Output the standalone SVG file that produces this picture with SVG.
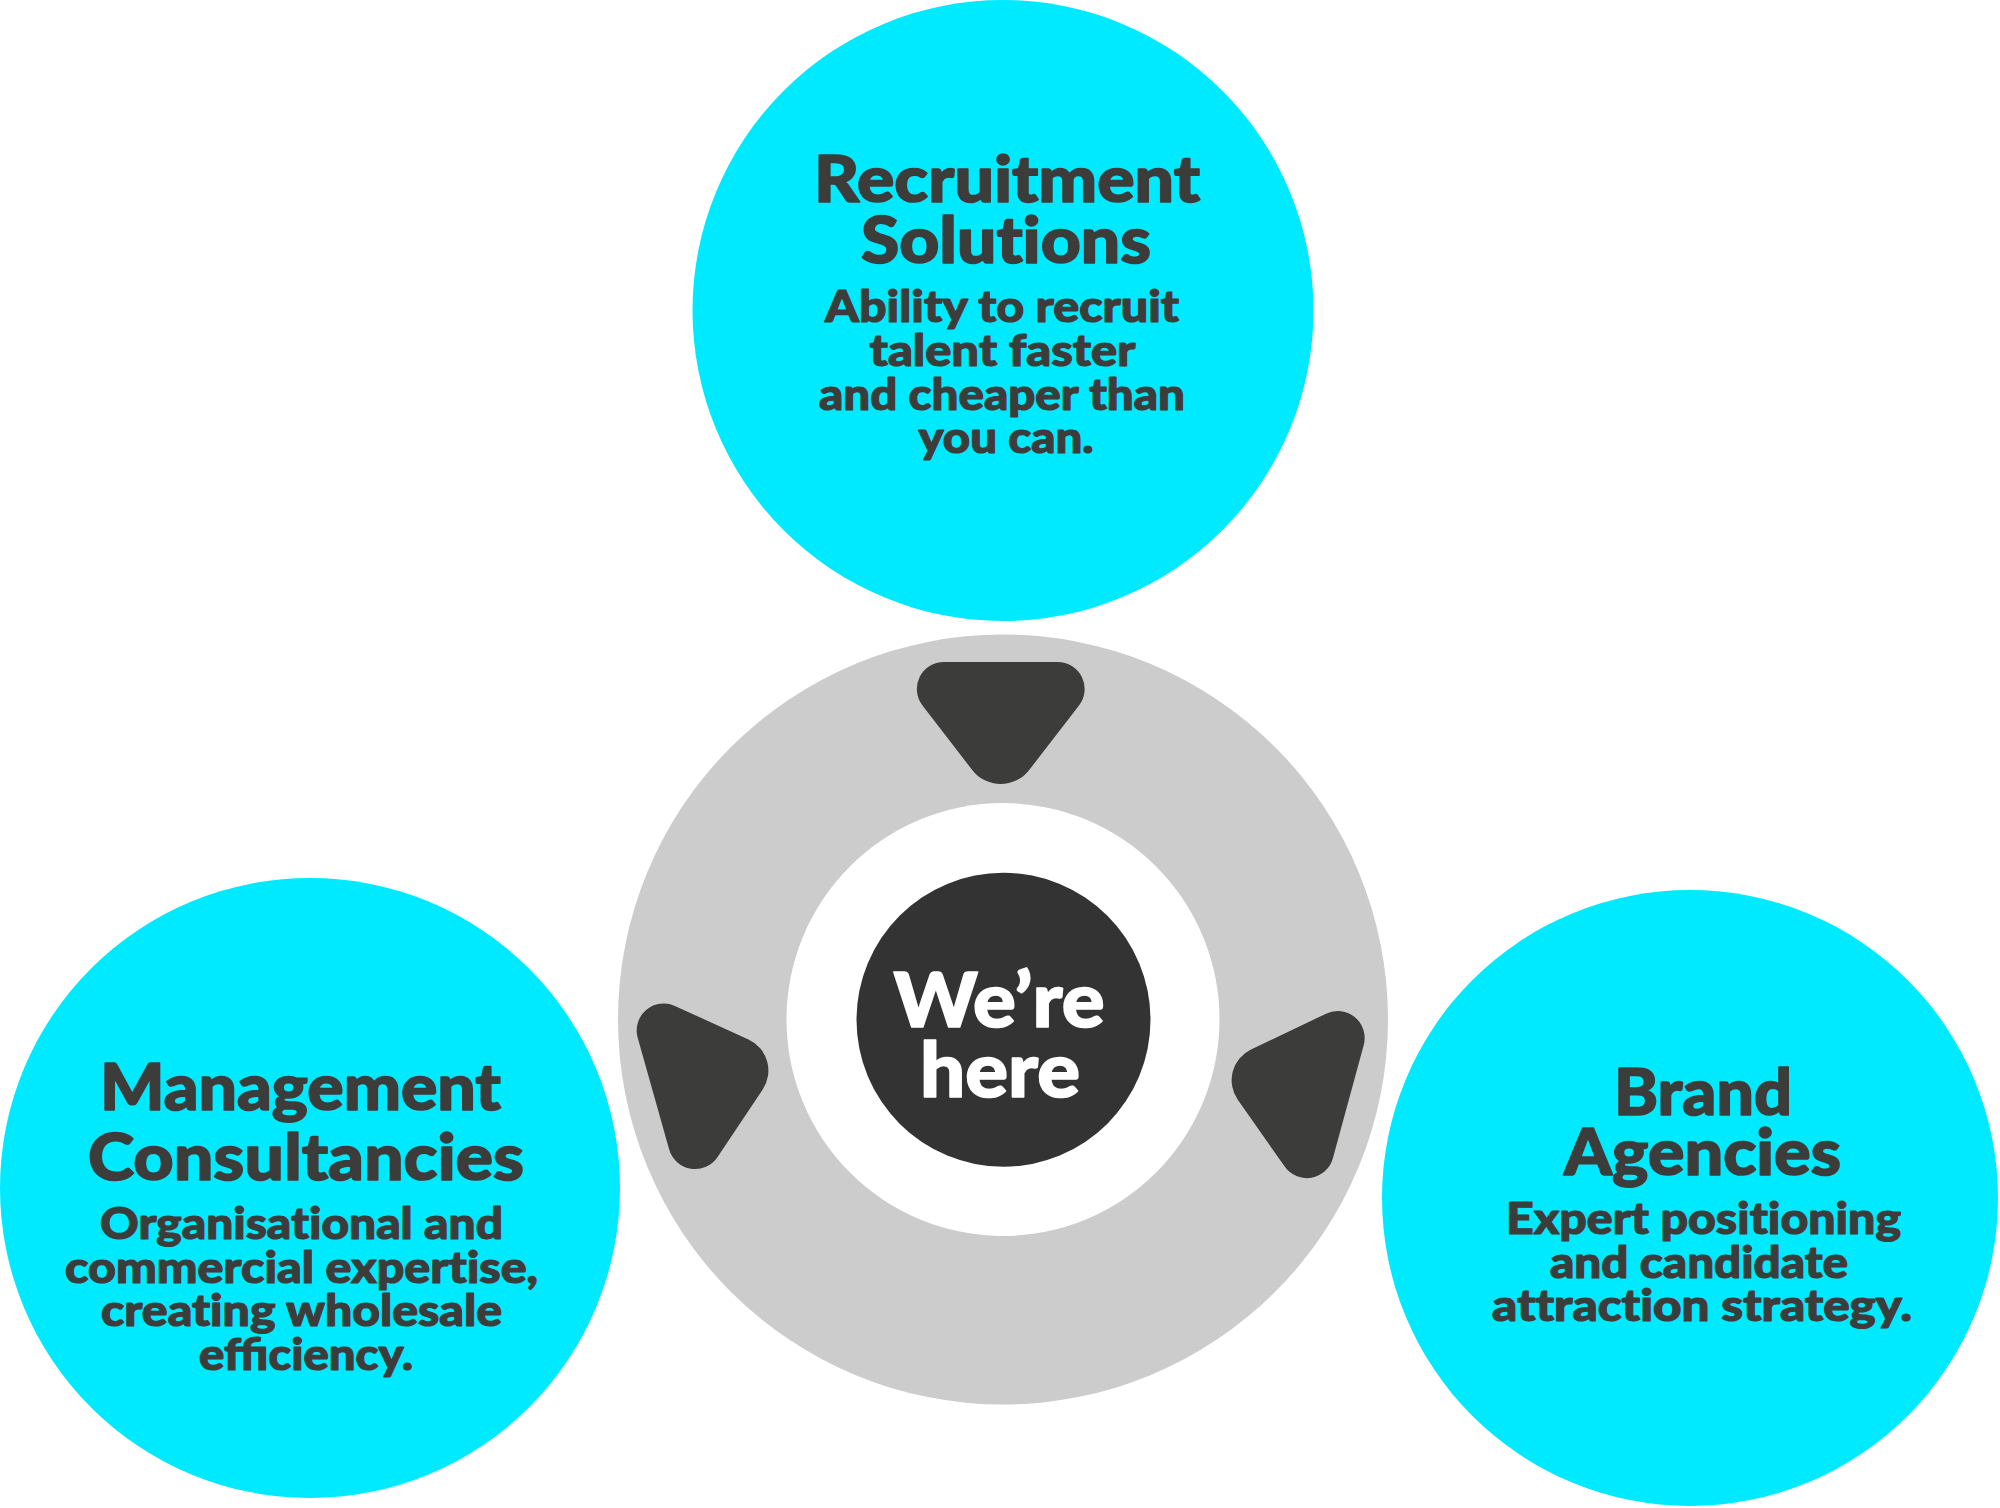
<svg xmlns="http://www.w3.org/2000/svg" width="2000" height="1508" viewBox="0 0 2000 1508">
  <style>
    .cyan { fill: #00EAFF; }
    .title { font-family: "Lato", "Inter", "Liberation Sans", sans-serif; font-weight: 900; font-size: 64px; fill: #3C3C3B; stroke: #3C3C3B; stroke-width: 1.6px; stroke-linejoin: round; text-anchor: middle; font-variant-ligatures: none; font-feature-settings: "liga" 0, "dlig" 0; }
    .sub { font-family: "Lato", "Inter", "Liberation Sans", sans-serif; font-weight: 900; font-size: 43px; fill: #3C3C3B; stroke: #3C3C3B; stroke-width: 1.2px; stroke-linejoin: round; text-anchor: middle; font-variant-ligatures: none; font-feature-settings: "liga" 0, "dlig" 0; }
    .lig { font-variant-ligatures: normal; font-feature-settings: "liga" 1; }
    .here { font-family: "Lato", "Inter", "Liberation Sans", sans-serif; font-weight: 900; font-size: 76px; fill: #FFFFFF; stroke: #FFFFFF; stroke-width: 1.6px; stroke-linejoin: round; text-anchor: middle; font-variant-ligatures: none; }
    .arrow { fill: #3C3C3B; }
  </style>
  <rect width="2000" height="1508" fill="#FFFFFF"/>

  <g id="node-recruitment">
    <circle class="cyan" cx="1003" cy="310.5" r="310.5"/>
    <text class="title" x="1007" y="202" textLength="386" lengthAdjust="spacingAndGlyphs">Recruitment</text>
    <text class="title" x="1006" y="262.5" textLength="290" lengthAdjust="spacingAndGlyphs">Solutions</text>
    <text class="sub" x="1002" y="321.5" textLength="354" lengthAdjust="spacingAndGlyphs">Ability to recruit</text>
    <text class="sub" x="1002.5" y="366" textLength="266" lengthAdjust="spacingAndGlyphs">talent faster</text>
    <text class="sub" x="1002" y="410" textLength="366" lengthAdjust="spacingAndGlyphs">and cheaper than</text>
    <text class="sub" x="1006" y="453" textLength="175" lengthAdjust="spacingAndGlyphs">you can.</text>
  </g>

  <g id="node-management">
    <circle class="cyan" cx="310" cy="1188" r="310"/>
    <text class="title" x="300.5" y="1110" textLength="401" lengthAdjust="spacingAndGlyphs">Management</text>
    <text class="title" x="306" y="1180" textLength="436" lengthAdjust="spacingAndGlyphs">Consultancies</text>
    <text class="sub" x="301.5" y="1239" textLength="403" lengthAdjust="spacingAndGlyphs">Organisational and</text>
    <text class="sub" x="301.5" y="1283" textLength="473" lengthAdjust="spacingAndGlyphs">commercial expertise,</text>
    <text class="sub" x="301.5" y="1326" textLength="401" lengthAdjust="spacingAndGlyphs">creating wholesale</text>
    <text class="sub lig" x="306" y="1370" textLength="214" lengthAdjust="spacingAndGlyphs">efficiency.</text>
  </g>

  <g id="node-brand">
    <circle class="cyan" cx="1690" cy="1198" r="308"/>
    <text class="title" x="1703" y="1115" textLength="178" lengthAdjust="spacingAndGlyphs">Brand</text>
    <text class="title" x="1702.5" y="1174.5" textLength="277" lengthAdjust="spacingAndGlyphs">Agencies</text>
    <text class="sub" x="1703.5" y="1233.5" textLength="395" lengthAdjust="spacingAndGlyphs">Expert positioning</text>
    <text class="sub" x="1699" y="1278" textLength="298" lengthAdjust="spacingAndGlyphs">and candidate</text>
    <text class="sub" x="1702" y="1321" textLength="420" lengthAdjust="spacingAndGlyphs">attraction strategy.</text>
  </g>

  <g id="node-center">
    <circle cx="1003" cy="1019.5" r="385" fill="#CCCCCC"/>
    <circle cx="1003" cy="1019.5" r="216.5" fill="#FFFFFF"/>
    <circle cx="1003.5" cy="1019.7" r="147" fill="#333333"/>
    <text class="here" x="999" y="1027" textLength="211" lengthAdjust="spacingAndGlyphs">We’re</text>
    <text class="here" x="1000" y="1097" textLength="160" lengthAdjust="spacingAndGlyphs">here</text>
  </g>

  <g id="connectors">
    <path class="arrow" d="M 943.9 662 L 1057.6 662 A 27 27 0 0 1 1079 705.5 L 1029.2 770 A 36 36 0 0 1 972.2 770 L 922.5 705.5 A 27 27 0 0 1 943.9 662 Z"/>
    <path class="arrow" d="M 674.9 1005.9 L 748.5 1039.6 A 34 34 0 0 1 762.7 1089.4 L 717.6 1157.0 A 27 27 0 0 1 669.1 1149.3 L 637.7 1037.8 A 27 27 0 0 1 674.9 1005.9 Z"/>
    <path class="arrow" d="M 1326.0 1013.7 A 27 27 0 0 1 1363.7 1045.2 L 1332.9 1158.2 A 27 27 0 0 1 1284.7 1166.6 L 1237.8 1099.7 A 34 34 0 0 1 1251.0 1049.5 Z"/>
  </g>
</svg>
